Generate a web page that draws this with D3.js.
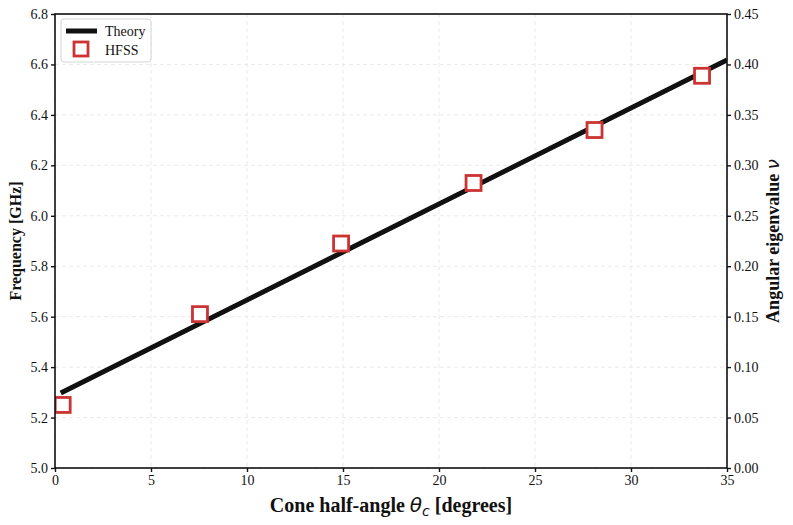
<!DOCTYPE html>
<html>
<head>
<meta charset="utf-8">
<script src="https://cdn.jsdelivr.net/npm/d3@7.9.0/dist/d3.min.js"></script>
<style>
  body { margin: 0; background: #fff; }
  svg { font-family: "Liberation Serif", "Times New Roman", serif; }
  .grid line { stroke: #e4e4e4; stroke-dasharray: 4 3; stroke-width: 0.8; }
  .axis text { font-size: 14px; fill: #111; font-family: "Liberation Serif", serif; }
  .axis path, .axis line { stroke: #111; stroke-width: 1.4; }
</style>
</head>
<body>
<svg id="chart" width="793" height="525"></svg>
<script>
// theory curve (straight line) and HFSS samples
const theoryAngle = [0.3, 35];
const theoryFreq = [5.297, 6.618];
const hfssAngle = [0.4, 7.55, 14.9, 21.8, 28.1, 33.7];
const hfssFreq = [5.25, 5.61, 5.89, 6.13, 6.34, 6.555];

const xTicks = [0, 5, 10, 15, 20, 25, 30, 35];
const yTicks = [5.0, 5.2, 5.4, 5.6, 5.8, 6.0, 6.2, 6.4, 6.6, 6.8];
const nuTicks = [0, 0.05, 0.10, 0.15, 0.20, 0.25, 0.30, 0.35, 0.40, 0.45];

const margin = { left: 55, right: 66, top: 14, bottom: 57 };
const W = 793, H = 525;
const svg = d3.select('#chart');

let x = d3.scaleLinear().domain([0, 35]).range([margin.left, W - margin.right]);
let y = d3.scaleLinear().domain([5.0, 6.8]).range([H - margin.bottom, margin.top]);
let yNu = d3.scaleLinear().domain([0, 0.45]).range([H - margin.bottom, margin.top]);

// grid
let grid = svg.append('g').attr('class', 'grid');
grid.selectAll('.gx').data(xTicks).join('line')
  .attr('x1', d => x(d)).attr('x2', d => x(d))
  .attr('y1', margin.top).attr('y2', H - margin.bottom);
grid.selectAll('.gy').data(yTicks).join('line')
  .attr('x1', margin.left).attr('x2', W - margin.right)
  .attr('y1', d => y(d)).attr('y2', d => y(d));

svg.append('clipPath').attr('id', 'clip').append('rect')
  .attr('x', margin.left).attr('y', margin.top)
  .attr('width', W - margin.left - margin.right)
  .attr('height', H - margin.top - margin.bottom);

let plot = svg.append('g').attr('clip-path', 'url(#clip)');

let line = d3.line().x(d => x(d[0])).y(d => y(d[1]));
plot.append('path')
  .datum(theoryAngle.map((a, i) => [a, theoryFreq[i]]))
  .attr('d', line)
  .attr('fill', 'none')
  .attr('stroke', '#111')
  .attr('stroke-width', 5);

const sq = 15;
plot.selectAll('.hfss').data(hfssAngle).join('rect')
  .attr('x', (d) => x(d) - sq / 2)
  .attr('y', (d, i) => y(hfssFreq[i]) - sq / 2)
  .attr('width', sq).attr('height', sq)
  .attr('fill', '#fff')
  .attr('stroke', '#cc3333')
  .attr('stroke-width', 2.8);

// frame
svg.append('rect')
  .attr('x', margin.left).attr('y', margin.top)
  .attr('width', W - margin.left - margin.right)
  .attr('height', H - margin.top - margin.bottom)
  .attr('fill', 'none').attr('stroke', '#111').attr('stroke-width', 1.6);

svg.append('g').attr('class', 'axis')
  .attr('transform', `translate(0,${H - margin.bottom})`)
  .call(d3.axisBottom(x).tickValues(xTicks).tickSize(4).tickPadding(3).tickFormat(d3.format('d')))
  .call(g => g.select('.domain').remove());

svg.append('g').attr('class', 'axis')
  .attr('transform', `translate(${margin.left},0)`)
  .call(d3.axisLeft(y).tickValues(yTicks).tickSize(4).tickPadding(3).tickFormat(d3.format('.1f')))
  .call(g => g.select('.domain').remove());

svg.append('g').attr('class', 'axis')
  .attr('transform', `translate(${W - margin.right},0)`)
  .call(d3.axisRight(yNu).tickValues(nuTicks).tickSize(4).tickPadding(3).tickFormat(d3.format('.2f')))
  .call(g => g.select('.domain').remove());

// axis titles
let xt = svg.append('text')
  .attr('x', (margin.left + W - margin.right) / 2).attr('y', 512)
  .attr('text-anchor', 'middle')
  .attr('font-size', 20).attr('font-weight', 'bold').attr('fill', '#111');
xt.append('tspan').text('Cone half-angle ');
xt.append('tspan').attr('font-family', 'DejaVu Sans').attr('font-style', 'italic')
  .attr('font-weight', 'normal').text('θ');
xt.append('tspan').attr('font-family', 'DejaVu Sans').attr('font-style', 'italic')
  .attr('font-weight', 'normal').attr('font-size', 14).attr('dy', 4).text('c');
xt.append('tspan').attr('dy', -4).text(' [degrees]');

svg.append('text')
  .attr('transform', `translate(21,${(margin.top + H - margin.bottom) / 2}) rotate(-90)`)
  .attr('text-anchor', 'middle')
  .attr('font-size', 16).attr('font-weight', 'bold').attr('fill', '#111')
  .text('Frequency [GHz]');

let rt = svg.append('text')
  .attr('transform', `translate(779,${(margin.top + H - margin.bottom) / 2}) rotate(-90)`)
  .attr('text-anchor', 'middle')
  .attr('font-size', 18).attr('font-weight', 'bold').attr('fill', '#111');
rt.append('tspan').text('Angular eigenvalue ');
rt.append('tspan').attr('font-family', 'DejaVu Sans').attr('font-style', 'italic')
  .attr('font-weight', 'normal').text('ν');

// legend
let lg = svg.append('g').attr('transform', 'translate(61,19)');
lg.append('rect').attr('width', 90).attr('height', 43).attr('rx', 3)
  .attr('fill', '#fff').attr('fill-opacity', 0.85)
  .attr('stroke', '#ccc').attr('stroke-width', 0.8);
lg.append('line').attr('x1', 5).attr('x2', 36).attr('y1', 12).attr('y2', 12)
  .attr('stroke', '#111').attr('stroke-width', 5);
lg.append('text').attr('x', 44).attr('y', 17).attr('font-size', 14).attr('fill', '#111').text('Theory');
lg.append('rect').attr('x', 13).attr('y', 23).attr('width', 14).attr('height', 14)
  .attr('fill', '#fff').attr('stroke', '#cc3333').attr('stroke-width', 2.8);
lg.append('text').attr('x', 44).attr('y', 36).attr('font-size', 14).attr('fill', '#111').text('HFSS');
</script>
</body>
</html>
